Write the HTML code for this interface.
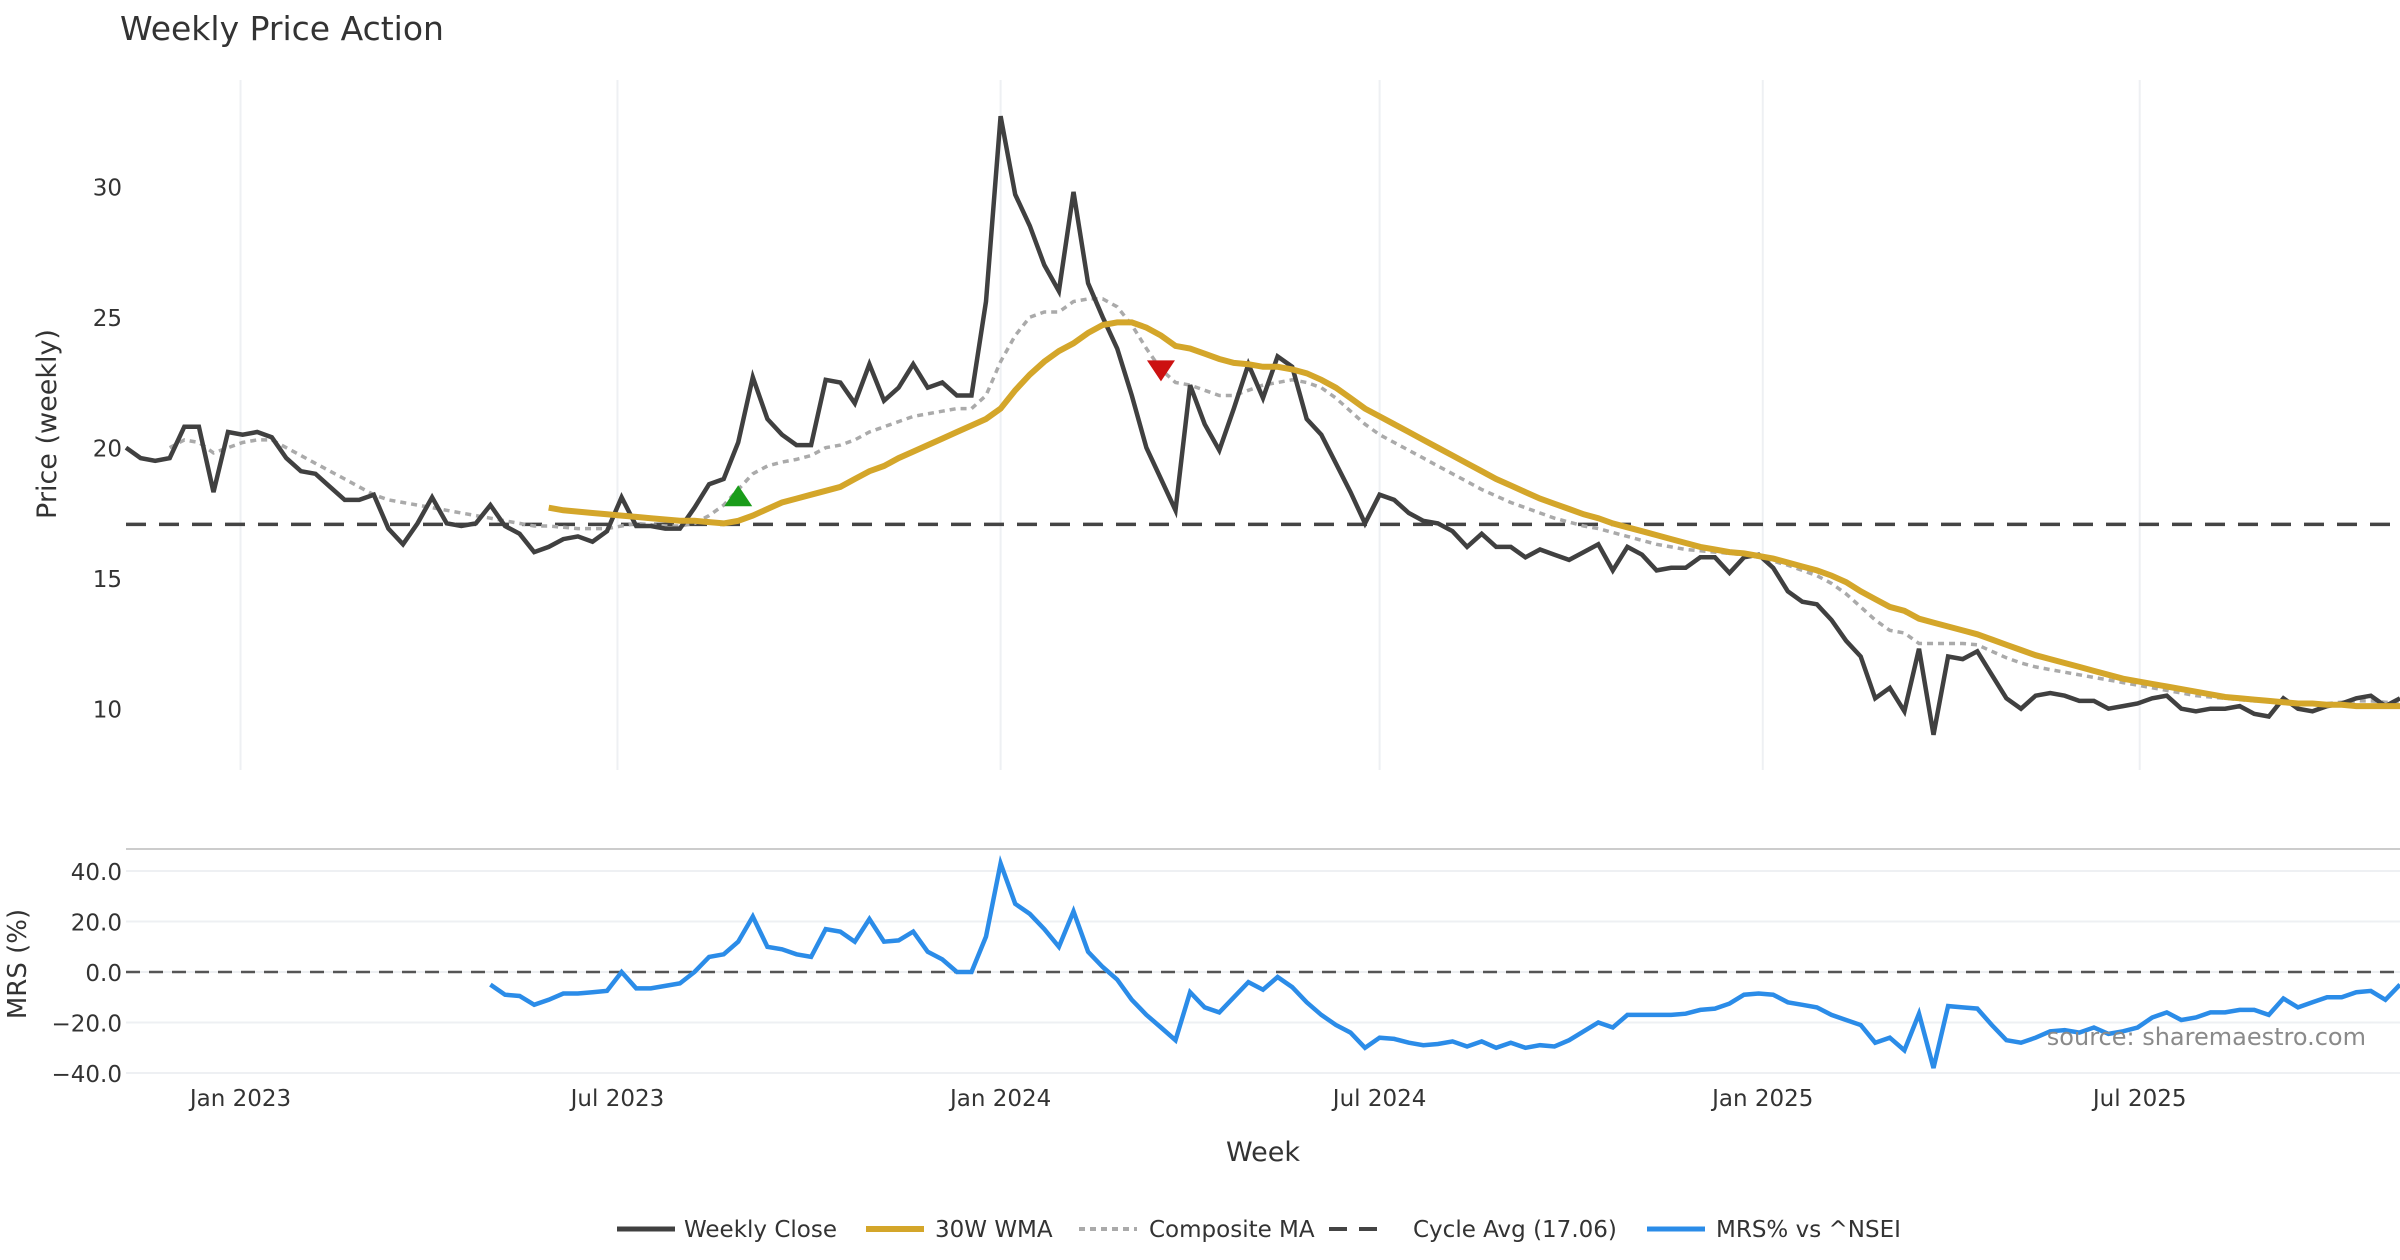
<!DOCTYPE html>
<html><head><meta charset="utf-8"><style>
html,body{margin:0;padding:0;background:#fff;}
svg{display:block;font-family:"DejaVu Sans","Liberation Sans",sans-serif;}
</style></head><body>
<svg id="chart" width="2400" height="1260" viewBox="0 0 2400 1260">
<text x="120" y="40" font-size="33" fill="#333">Weekly Price Action</text>
<g id="grid"></g>
<g id="price"></g>
<g id="mrs"></g>
<g id="axes"></g>
<text x="0" y="0" transform="translate(56,424) rotate(-90)" text-anchor="middle" font-size="27" fill="#333">Price (weekly)</text>
<text x="0" y="0" transform="translate(26,964) rotate(-90)" text-anchor="middle" font-size="26" fill="#333">MRS (%)</text>
<text x="1263" y="1161" text-anchor="middle" font-size="27" fill="#333">Week</text>
<text x="2366" y="1045" text-anchor="end" font-size="24" fill="#8a8a8a">source: sharemaestro.com</text>
<g id="legend" font-size="23">
 <g><line x1="617" y1="1229" x2="675" y2="1229" stroke="#404040" stroke-width="5"/><text x="684" y="1237" fill="#333">Weekly Close</text></g>
 <g><line x1="866" y1="1229" x2="924" y2="1229" stroke="#d4a62a" stroke-width="6"/><text x="935" y="1237" fill="#333">30W WMA</text></g>
 <g><line x1="1079" y1="1229" x2="1137" y2="1229" stroke="#aaa" stroke-width="4" stroke-dasharray="6,5"/><text x="1149" y="1237" fill="#333">Composite MA</text></g>
 <g><line x1="1329" y1="1229" x2="1387" y2="1229" stroke="#444" stroke-width="4" stroke-dasharray="18,12"/><text x="1413" y="1237" fill="#333">Cycle Avg (17.06)</text></g>
 <g><line x1="1647" y1="1229" x2="1705" y2="1229" stroke="#2b8ce8" stroke-width="5"/><text x="1716" y="1237" fill="#333">MRS% vs ^NSEI</text></g>
</g>
</svg>
<script>
const startDate = "2022-11-07";
const closeVals = [20.0,19.6,19.5,19.6,20.8,20.8,18.3,20.6,20.5,20.6,20.4,19.6,19.1,19.0,18.5,18.0,18.0,18.2,16.9,16.3,17.1,18.1,17.1,17.0,17.1,17.8,17.0,16.7,16.0,16.2,16.5,16.6,16.4,16.8,18.1,17.0,17.0,16.9,16.9,17.7,18.6,18.8,20.2,22.7,21.1,20.5,20.1,20.1,22.6,22.5,21.7,23.2,21.8,22.3,23.2,22.3,22.5,22.0,22.0,25.6,32.7,29.7,28.5,27.0,26.0,29.8,26.3,25.0,23.8,22.0,20.0,18.8,17.6,22.4,20.9,19.9,21.5,23.2,21.9,23.5,23.1,21.1,20.5,19.4,18.3,17.1,18.2,18.0,17.5,17.2,17.1,16.8,16.2,16.7,16.2,16.2,15.8,16.1,15.9,15.7,16.0,16.3,15.3,16.2,15.9,15.3,15.4,15.4,15.8,15.8,15.2,15.8,15.9,15.4,14.5,14.1,14.0,13.4,12.6,12.0,10.4,10.8,9.9,12.3,9.0,12.0,11.9,12.2,11.3,10.4,10.0,10.5,10.6,10.5,10.3,10.3,10.0,10.1,10.2,10.4,10.5,10.0,9.9,10.0,10.0,10.1,9.8,9.7,10.4,10.0,9.9,10.1,10.2,10.4,10.5,10.1,10.4];
const wmaStart = 29;
const wmaVals = [17.7,17.6,17.55,17.5,17.45,17.4,17.35,17.3,17.25,17.2,17.2,17.15,17.1,17.2,17.4,17.65,17.9,18.05,18.2,18.35,18.5,18.8,19.1,19.3,19.6,19.85,20.1,20.35,20.6,20.85,21.1,21.5,22.2,22.8,23.3,23.7,24.0,24.4,24.7,24.8,24.8,24.6,24.3,23.9,23.8,23.6,23.4,23.25,23.2,23.1,23.1,23.0,22.85,22.6,22.3,21.9,21.5,21.2,20.9,20.6,20.3,20.0,19.7,19.4,19.1,18.8,18.55,18.3,18.05,17.85,17.65,17.45,17.3,17.1,16.95,16.8,16.65,16.5,16.35,16.2,16.1,16.0,15.95,15.85,15.75,15.6,15.45,15.3,15.1,14.85,14.5,14.2,13.9,13.75,13.45,13.3,13.15,13.0,12.85,12.65,12.45,12.25,12.05,11.9,11.75,11.6,11.45,11.3,11.15,11.05,10.95,10.85,10.75,10.65,10.55,10.45,10.4,10.35,10.3,10.25,10.2,10.2,10.15,10.15,10.1,10.1,10.1,10.1];
const compStart = 3;
const compVals = [20.0,20.3,20.2,19.8,20.0,20.2,20.3,20.3,20.0,19.7,19.4,19.1,18.8,18.5,18.2,18.0,17.9,17.8,17.7,17.6,17.5,17.4,17.3,17.2,17.1,17.0,17.0,16.95,16.9,16.9,16.9,17.0,17.1,17.05,17.0,17.0,17.1,17.4,17.8,18.4,19.0,19.3,19.45,19.55,19.7,20.0,20.1,20.3,20.6,20.8,21.0,21.2,21.3,21.4,21.5,21.5,22.0,23.3,24.3,25.0,25.2,25.2,25.6,25.7,25.7,25.4,24.7,23.8,23.0,22.5,22.4,22.2,22.0,22.0,22.2,22.4,22.5,22.6,22.5,22.3,21.9,21.4,20.9,20.5,20.2,19.9,19.6,19.3,19.0,18.7,18.4,18.15,17.9,17.7,17.5,17.3,17.15,17.0,16.9,16.75,16.6,16.45,16.3,16.2,16.1,16.05,16.0,15.95,15.9,15.8,15.65,15.5,15.3,15.1,14.8,14.4,13.9,13.4,13.0,12.9,12.5,12.5,12.5,12.5,12.45,12.2,11.95,11.75,11.6,11.5,11.4,11.3,11.2,11.1,11.0,10.9,10.8,10.7,10.6,10.5,10.45,10.4,10.35,10.3,10.3,10.25,10.2,10.2,10.2,10.25,10.3,10.3,10.25,10.2];
const mrsStart = 25;
const mrsVals = [-5,-9,-9.5,-13,-11,-8.5,-8.5,-8,-7.5,0,-6.5,-6.5,-5.5,-4.5,0,6,7,12,22,10,9,7,6,17,16,12,21,12,12.5,16,8,5,0,0,14,43,27,23,17,10,24,8,2,-3,-11,-17,-22,-27,-8,-14,-16,-10,-4,-7,-2,-6,-12,-17,-21,-24,-30,-26,-26.5,-28,-29,-28.5,-27.5,-29.5,-27.5,-30,-28,-30,-29,-29.5,-27,-23.5,-20,-22,-17,-17,-17,-17,-16.5,-15,-14.5,-12.5,-9,-8.5,-9,-12,-13,-14,-17,-19,-21,-28,-26,-31,-16.5,-38,-13.5,-14,-14.5,-21,-27,-28,-26,-23.5,-23,-24,-22,-24.5,-23.5,-22,-18,-16,-19,-18,-16,-16,-15,-15,-17,-10.5,-14,-12,-10,-10,-8,-7.5,-11,-5];
const cycleAvg = 17.06;
const signalIdx = [42, 71];
const signalVals = [18.1, 23.0];
const signalTypes = ["buy", "sell"];
const priceTicks = [10,15,20,25,30];
const mrsTicks = [40,20,0,-20,-40];
const mrsTickLabels = ["40.0","20.0","0.0","\u221220.0","\u221240.0"];
const xTickDates = ["2023-01-01","2023-07-01","2024-01-01","2024-07-01","2025-01-01","2025-07-01"];
const xTickLabels = ["Jan 2023","Jul 2023","Jan 2024","Jul 2024","Jan 2025","Jul 2025"];

const NS="http://www.w3.org/2000/svg";
const X0=126, X1=2400, N=closeVals.length;
const xs = i => X0 + i*(X1-X0)/(N-1);
const yP = v => 708.7 - (v-10)*26.1;
const yM = v => 972 - v*2.525;
const dateIdx = d => (new Date(d+"T00:00:00Z") - new Date(startDate+"T00:00:00Z"))/(7*864e5);
function mk(tag, attrs, parent){const e=document.createElementNS(NS,tag);for(const k in attrs)e.setAttribute(k,attrs[k]);parent.appendChild(e);return e;}
const grid=document.getElementById('grid'), price=document.getElementById('price'), mrs=document.getElementById('mrs'), axes=document.getElementById('axes');

xTickDates.forEach((d,k)=>{
  const x=xs(dateIdx(d));
  const g=mk('line',{x1:x,x2:x,y1:80,y2:770,stroke:'#eef0f3','stroke-width':2},grid);
  
  
  const t=mk('text',{x:x,y:1106,'text-anchor':'middle','font-size':23,fill:'#333'},axes);
  t.textContent=xTickLabels[k];
  
  
});
priceTicks.forEach(v=>{
  const t=mk('text',{x:122,y:yP(v)+9,'text-anchor':'end','font-size':23,fill:'#333'},axes);
  t.textContent=v;
  
  
});
mrsTicks.forEach((v,k)=>{
  const g=mk('line',{x1:X0,x2:X1,y1:yM(v),y2:yM(v),stroke:'#eef0f3','stroke-width':2},grid);
  
  
  const t=mk('text',{x:122,y:yM(v)+9,'text-anchor':'end','font-size':23,fill:'#333'},axes);
  t.textContent=mrsTickLabels[k];
  
  
});
const sep=mk('line',{x1:X0,x2:X1,y1:849,y2:849,stroke:'#ccc','stroke-width':2},axes);



function path(vals,start,yf){return vals.map((v,k)=>(k?'L':'M')+xs(start+k).toFixed(1)+' '+yf(v).toFixed(1)).join(' ');}
const cyc=mk('line',{x1:X0,x2:X1,y1:yP(cycleAvg),y2:yP(cycleAvg),stroke:'#444','stroke-width':3.5,'stroke-dasharray':'20,13'},price);


const comp=mk('path',{d:path(compVals,compStart,yP),fill:'none',stroke:'#aaa','stroke-width':3.5,'stroke-dasharray':'6,5'},price);


const cl=mk('path',{d:path(closeVals,0,yP),fill:'none',stroke:'#404040','stroke-width':4.5,'stroke-linejoin':'miter'},price);


const wma=mk('path',{d:path(wmaVals,wmaStart,yP),fill:'none',stroke:'#d4a62a','stroke-width':6},price);


signalIdx.forEach((i,k)=>{
  const x=xs(i), y=yP(signalVals[k]);
  const pts = signalTypes[k]==='buy' ? `${x-14},${y+9} ${x+14},${y+9} ${x},${y-12}` : `${x-14},${y-9} ${x+14},${y-9} ${x},${y+12}`;
  const m=mk('polygon',{points:pts,fill:signalTypes[k]==='buy'?'#1a9c1a':'#cc1111'},price);
  
  
});
const z=mk('line',{x1:X0,x2:X1,y1:yM(0),y2:yM(0),stroke:'#555','stroke-width':2.5,'stroke-dasharray':'14,9'},mrs);


const ml=mk('path',{d:path(mrsVals,mrsStart,yM),fill:'none',stroke:'#2b8ce8','stroke-width':4.5},mrs);


</script>
</body></html>
